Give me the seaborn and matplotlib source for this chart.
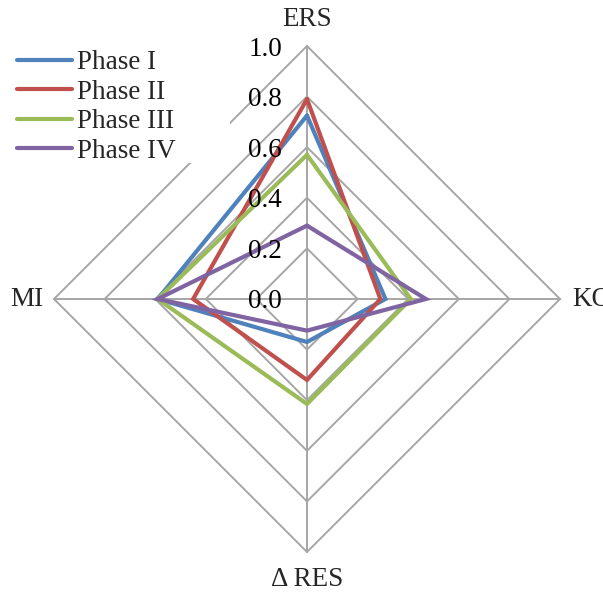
import numpy as np
import pandas as pd
import matplotlib
matplotlib.use("Agg")
import matplotlib.pyplot as plt
from matplotlib.transforms import offset_copy
from matplotlib.lines import Line2D
from matplotlib.patches import Rectangle
import seaborn as sns

# ---- data ----
axes_labels = ["ERS", "KO", "Δ RES", "MI"]
phases = ["Phase I", "Phase II", "Phase III", "Phase IV"]
phase1 = [0.725, 0.31, 0.17, 0.59]
phase2 = [0.79, 0.29, 0.32, 0.45]
phase3 = [0.57, 0.41, 0.415, 0.59]
phase4 = [0.29, 0.47, 0.125, 0.59]
tick_values = [0.0, 0.2, 0.4, 0.6, 0.8, 1.0]
tick_labels = ["0.0", "0.2", "0.4", "0.6", "0.8", "1.0"]
colors = ["#4F81BD", "#C0504D", "#9BBB59", "#8064A2"]

sns.set_theme(style="white")
plt.rcParams["font.family"] = ["Liberation Serif", "DejaVu Serif"]

FS = 19.5
W, H = 603, 592
cx, cy, R = 307, 299, 253  # pixel center and radius of 1.0
fig = plt.figure(figsize=(W / 100, H / 100), dpi=100)
ax = fig.add_axes([0, 0, 1, 1])
ax.set_xlim(-cx / R, (W - cx) / R)
ax.set_ylim(-(H - cy) / R, cy / R)
ax.set_axis_off()

n = len(axes_labels)
angles = np.arange(n) * 2 * np.pi / n  # clockwise from top
sx, sy = np.sin(angles), np.cos(angles)

grid_col = "#A6A6A6"
for v in tick_values[1:]:
    ax.plot(np.append(sx, sx[0]) * v, np.append(sy, sy[0]) * v,
            color=grid_col, lw=1.4, zorder=1, solid_joinstyle="miter")
for i in range(n):
    ax.plot([0, sx[i]], [0, sy[i]], color=grid_col, lw=1.4, zorder=1)

rows = []
for name, vals in zip(phases, [phase1, phase2, phase3, phase4]):
    vv = list(vals) + [vals[0]]
    for k, v in enumerate(vv):
        rows.append({"Phase": name, "order": k,
                     "x": v * sx[k % n], "y": v * sy[k % n]})
df = pd.DataFrame(rows)
sns.lineplot(data=df, x="x", y="y", hue="Phase", units="Phase", estimator=None,
             sort=False, palette=colors, linewidth=3.0, legend=False, ax=ax,
             zorder=3)
for line in ax.lines[-4:]:
    line.set_solid_joinstyle("miter")

tr = offset_copy(ax.transData, fig=fig, x=-25, y=-3, units="dots")
for v, lab in zip(tick_values, tick_labels):
    ax.text(0, v, lab, transform=tr, ha="right", va="center", fontsize=FS,
            color="black", zorder=5)

ax.text(0, 1, axes_labels[0], transform=offset_copy(ax.transData, fig=fig, x=0, y=26, units="dots"),
        ha="center", va="center", fontsize=FS)
ax.text(1, 0, axes_labels[1], transform=offset_copy(ax.transData, fig=fig, x=12, y=-1, units="dots"),
        ha="left", va="center", fontsize=FS)
ax.text(0, -1, axes_labels[2], transform=offset_copy(ax.transData, fig=fig, x=0, y=-28, units="dots"),
        ha="center", va="center", fontsize=FS)
ax.text(-1, 0, axes_labels[3], transform=offset_copy(ax.transData, fig=fig, x=-11, y=-1, units="dots"),
        ha="right", va="center", fontsize=FS)

fig.patches.append(Rectangle((0, (H - 163) / H), 230 / W, 123 / H, transform=fig.transFigure,
                             facecolor="white", edgecolor="none", zorder=2))
handles = [Line2D([], [], color=c, lw=3.0) for c in colors]
leg = fig.legend(handles, phases, loc="upper left", bbox_to_anchor=(17 / W, 1 - 50 / H),
                 frameon=False, fontsize=FS, handlelength=2.04, handletextpad=0.19,
                 labelspacing=0.17, borderpad=0, borderaxespad=0)
leg.set_zorder(6)

fig.savefig("out.png", dpi=100)
